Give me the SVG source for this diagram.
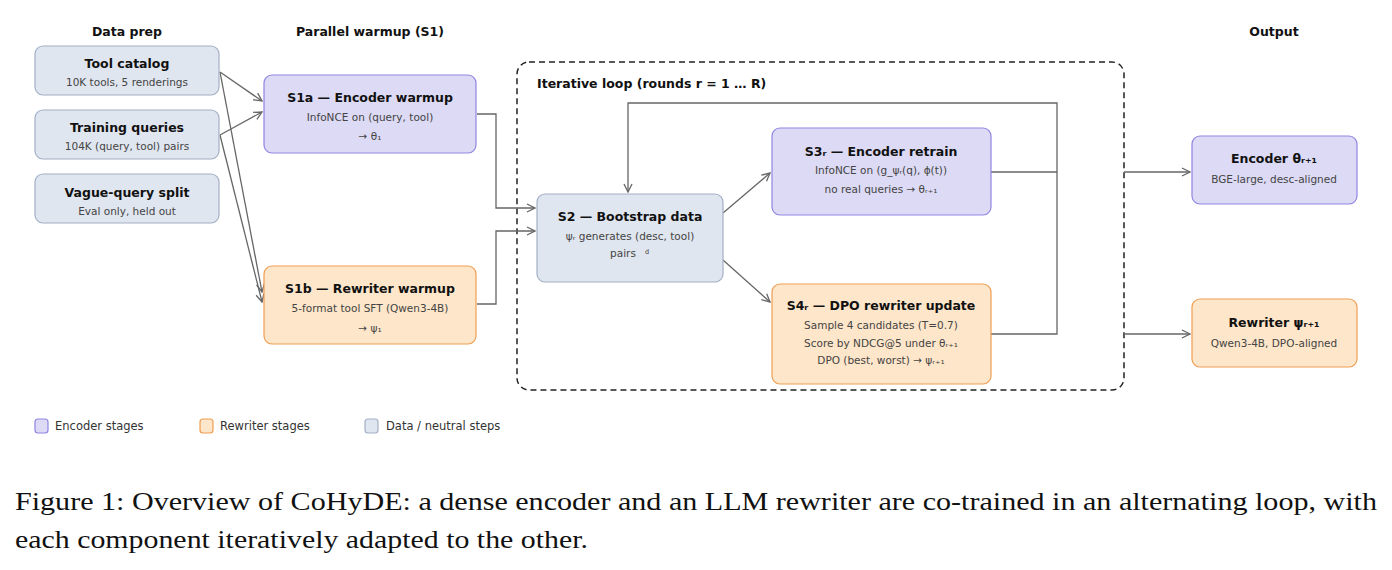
<svg xmlns="http://www.w3.org/2000/svg" width="1392" height="570" viewBox="0 0 1392 570">
<defs>
<marker id="arr" viewBox="0 0 10 10" refX="9" refY="5" markerWidth="10" markerHeight="10" markerUnits="userSpaceOnUse" orient="auto">
<path d="M1,1 L9,5 L1,9" fill="none" stroke="#666" stroke-width="1.3"/>
</marker>
<style>
.hdr{font-family:"DejaVu Sans",sans-serif;font-size:12.5px;font-weight:bold;fill:#111;text-anchor:middle}
.t{font-family:"DejaVu Sans",sans-serif;font-size:12.5px;font-weight:bold;fill:#111;text-anchor:middle}
.s{font-family:"DejaVu Sans",sans-serif;font-size:10.5px;fill:#444;text-anchor:middle}
.sup{font-family:"DejaVu Sans",sans-serif;font-size:6.5px;fill:#444;text-anchor:middle}
.lg{font-family:"DejaVu Sans",sans-serif;font-size:11.5px;fill:#333}
.enc{fill:#dcdaf5;stroke:#8f85e3;stroke-width:1.2}
.rw{fill:#fde6c9;stroke:#ef9d52;stroke-width:1.2}
.dat{fill:#e0e6ef;stroke:#a3b0c5;stroke-width:1.2}
.c{fill:none;stroke:#666;stroke-width:1.3}
.cap{font-family:"Liberation Serif","Times New Roman",serif;font-size:25px;fill:#111}
</style>
</defs>
<rect width="1392" height="570" fill="#fff"/>

<g id="headers">
<text class="hdr" x="127" y="35.5">Data prep</text>
<text class="hdr" x="370" y="35.5">Parallel warmup (S1)</text>
<text class="hdr" x="1274" y="35.5">Output</text>
</g>

<g id="loop">
<rect x="517" y="62" width="607" height="328" rx="12" fill="none" stroke="#222" stroke-width="1.5" stroke-dasharray="6,4"/>
<text x="537" y="87.5" font-family="DejaVu Sans, sans-serif" font-size="12.5" font-weight="bold" fill="#111">Iterative loop (rounds r = 1 … R)</text>
</g>

<g id="connectors">
<path class="c" d="M220,72 L262,101" marker-end="url(#arr)"/>
<path class="c" d="M220,135 L262,112" marker-end="url(#arr)"/>
<path class="c" d="M220,72 L262,292" marker-end="url(#arr)"/>
<path class="c" d="M220,135 L262,302" marker-end="url(#arr)"/>
<path class="c" d="M477,114 L496,114 L496,208 L535,208" marker-end="url(#arr)"/>
<path class="c" d="M477,304 L496,304 L496,231 L535,231" marker-end="url(#arr)"/>
<path class="c" d="M723,213 L770,173" marker-end="url(#arr)"/>
<path class="c" d="M723,260 L770,302" marker-end="url(#arr)"/>
<path class="c" d="M991,172 L1057,172"/>
<path class="c" d="M991,334 L1057,334 L1057,103 L628,103 L628,192" marker-end="url(#arr)"/>
<path class="c" d="M1124,172 L1190,172" marker-end="url(#arr)"/>
<path class="c" d="M1124,334 L1190,334" marker-end="url(#arr)"/>
</g>

<g id="tool-catalog">
<rect class="dat" x="35" y="46" width="184" height="49" rx="8"/>
<text class="t" x="127" y="67.5">Tool catalog</text>
<text class="s" x="127" y="86">10K tools, 5 renderings</text>
</g>
<g id="training-queries">
<rect class="dat" x="35" y="110" width="184" height="49" rx="8"/>
<text class="t" x="127" y="131.5">Training queries</text>
<text class="s" x="127" y="150">104K (query, tool) pairs</text>
</g>
<g id="vague-split">
<rect class="dat" x="35" y="174" width="184" height="49" rx="8"/>
<text class="t" x="127" y="196.5">Vague-query split</text>
<text class="s" x="127" y="215">Eval only, held out</text>
</g>

<g id="s1a">
<rect class="enc" x="264" y="75" width="212" height="78" rx="8"/>
<text class="t" x="370" y="102">S1a — Encoder warmup</text>
<text class="s" x="370" y="121">InfoNCE on (query, tool)</text>
<text class="s" x="370" y="139.5">→ θ₁</text>
</g>
<g id="s1b">
<rect class="rw" x="264" y="266" width="212" height="78" rx="8"/>
<text class="t" x="370" y="292.5">S1b — Rewriter warmup</text>
<text class="s" x="370" y="312">5-format tool SFT (Qwen3-4B)</text>
<text class="s" x="370" y="332">→ ψ₁</text>
</g>

<g id="s2">
<rect class="dat" x="537" y="194" width="186" height="88" rx="8"/>
<text class="t" x="630" y="220.5">S2 — Bootstrap data</text>
<text class="s" x="630" y="240">ψᵣ generates (desc, tool)</text>
<text class="s" x="623" y="257">pairs</text>
<text class="sup" x="647" y="253.5">d</text>
</g>

<g id="s3">
<rect class="enc" x="772" y="128" width="219" height="87" rx="8"/>
<text class="t" x="881" y="155.5">S3ᵣ — Encoder retrain</text>
<text class="s" x="881" y="174">InfoNCE on (g_ψᵣ(q), ϕ(t))</text>
<text class="s" x="881" y="193">no real queries → θᵣ₊₁</text>
</g>
<g id="s4">
<rect class="rw" x="772" y="284" width="219" height="100" rx="8"/>
<text class="t" x="881" y="309.5">S4ᵣ — DPO rewriter update</text>
<text class="s" x="881" y="329">Sample 4 candidates (T=0.7)</text>
<text class="s" x="881" y="347">Score by NDCG@5 under θᵣ₊₁</text>
<text class="s" x="881" y="364">DPO (best, worst) → ψᵣ₊₁</text>
</g>

<g id="out-encoder">
<rect class="enc" x="1192" y="136" width="165" height="68" rx="8"/>
<text class="t" x="1274" y="162.5">Encoder θᵣ₊₁</text>
<text class="s" x="1274" y="183">BGE-large, desc-aligned</text>
</g>
<g id="out-rewriter">
<rect class="rw" x="1192" y="299" width="165" height="68" rx="8"/>
<text class="t" x="1274" y="326.5">Rewriter ψᵣ₊₁</text>
<text class="s" x="1274" y="347">Qwen3-4B, DPO-aligned</text>
</g>

<g id="legend">
<rect class="enc" x="35" y="419" width="13" height="14" rx="3"/>
<text class="lg" x="55" y="430">Encoder stages</text>
<rect class="rw" x="200" y="419" width="13" height="14" rx="3"/>
<text class="lg" x="220" y="430">Rewriter stages</text>
<rect class="dat" x="365" y="419" width="13" height="14" rx="3"/>
<text class="lg" x="386" y="430">Data / neutral steps</text>
</g>

<g id="caption">
<text class="cap" x="15" y="510" textLength="1362" lengthAdjust="spacingAndGlyphs">Figure 1: Overview of CoHyDE: a dense encoder and an LLM rewriter are co-trained in an alternating loop, with</text>
<text class="cap" x="15" y="548" textLength="573" lengthAdjust="spacingAndGlyphs">each component iteratively adapted to the other.</text>
</g>
</svg>
